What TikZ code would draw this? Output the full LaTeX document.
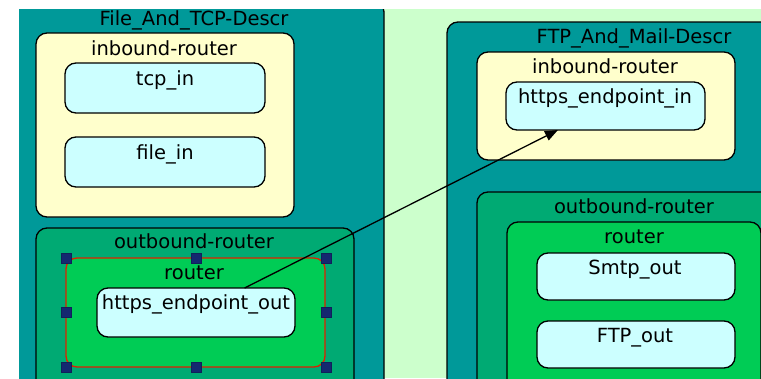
\documentclass[tikz,border=0pt]{standalone}
\usepackage{fontspec}
\setmainfont{DejaVu Sans}
\usetikzlibrary{arrows.meta}
\definecolor{tealbox}{RGB}{0,153,153}
\definecolor{canvasgreen}{RGB}{204,255,204}
\definecolor{inyellow}{RGB}{255,255,204}
\definecolor{epcyan}{RGB}{204,255,255}
\definecolor{outgreen}{RGB}{0,170,115}
\definecolor{routegreen}{RGB}{0,204,85}
\definecolor{selred}{RGB}{221,34,0}
\definecolor{handleblue}{RGB}{20,40,112}
\tikzset{
  box/.style={draw=black, line width=1.3pt, rounded corners=#1, inner sep=0pt, outer sep=0pt, anchor=north west},
  box/.default=11pt,
  lbl/.style={anchor=base, inner sep=0pt, font=\fontsize{19.5}{22}\selectfont},
  handle/.style={draw=handleblue!80!black, fill=handleblue, line width=0.6pt, minimum size=10pt, inner sep=0pt},
  link/.style={draw=black, line width=1.3pt, -{Triangle[length=13pt,width=10pt]}}
}
\begin{document}
\begin{tikzpicture}[x=1pt,y=-1pt]
\useasboundingbox (0,0) rectangle (761,378);
\fill[white] (0,0) rectangle (761,378);
\begin{scope}
\clip (19,9) rectangle (761,378);
\fill[canvasgreen] (19,9) rectangle (761,378);

% left description
\node[box=10pt, fill=tealbox, minimum width=380pt, minimum height=420pt] (ftcp) at (4,2) {};
\node[lbl] (ftcpT) at (194,25) {File\_And\_TCP-Descr};

\node[box, fill=inyellow, minimum width=258pt, minimum height=184pt] (inL) at (36,33) {};
\node[lbl] (inLT) at (164,55) {inbound-router};
\node[box, fill=epcyan, minimum width=200pt, minimum height=50pt] (tcpin) at (65,63) {};
\node[lbl] (tcpinT) at (165,85) {tcp\_in};
\node[box, fill=epcyan, minimum width=200pt, minimum height=50pt] (filein) at (65,137) {};
\node[lbl] (fileinT) at (165,159) {file\_in};

\node[box, fill=outgreen, minimum width=318pt, minimum height=200pt] (outL) at (36,228) {};
\node[lbl] (outLT) at (194,248) {outbound-router};
\node[box, draw=selred, fill=routegreen, minimum width=259pt, minimum height=109pt] (routL) at (66,258) {};
\node[lbl] (routLT) at (194,279) {router};
\node[box, fill=epcyan, minimum width=198pt, minimum height=49pt] (httpsout) at (97,288) {};
\node[lbl] (httpsoutT) at (196,309) {https\_endpoint\_out};

% right description
\node[box, fill=tealbox, minimum width=373pt, minimum height=400pt] (ftpm) at (447,22) {};
\node[lbl] (ftpmT) at (634,43) {FTP\_And\_Mail-Descr};

\node[box, fill=inyellow, minimum width=258pt, minimum height=108pt] (inR) at (477,52) {};
\node[lbl] (inRT) at (605,73) {inbound-router};
\node[box, fill=epcyan, minimum width=199pt, minimum height=48pt] (httpsin) at (506,82) {};
\node[lbl] (httpsinT) at (605,103) {https\_endpoint\_in};

\node[box, fill=outgreen, minimum width=314pt, minimum height=220pt] (outR) at (477,192) {};
\node[lbl] (outRT) at (634,213) {outbound-router};
\node[box, fill=routegreen, minimum width=254pt, minimum height=190pt] (routR) at (507,222) {};
\node[lbl] (routRT) at (634,243) {router};
\node[box, fill=epcyan, minimum width=198pt, minimum height=47pt] (smtpout) at (537,253) {};
\node[lbl] (smtpoutT) at (635,274) {Smtp\_out};
\node[box, fill=epcyan, minimum width=198pt, minimum height=47pt] (ftpout) at (537,321) {};
\node[lbl] (ftpoutT) at (635,342) {FTP\_out};

% connector
\draw[link] (httpsout) -- (httpsin);

% selection handles on the left router
\foreach \n/\hx/\hy in {h1/66/258, h2/196/258, h3/326/258, h4/66/312, h5/326/312, h6/66/367, h7/196/367, h8/326/367}
  \node[handle] (\n) at (\hx,\hy) {};
\end{scope}
\end{tikzpicture}
\end{document}
